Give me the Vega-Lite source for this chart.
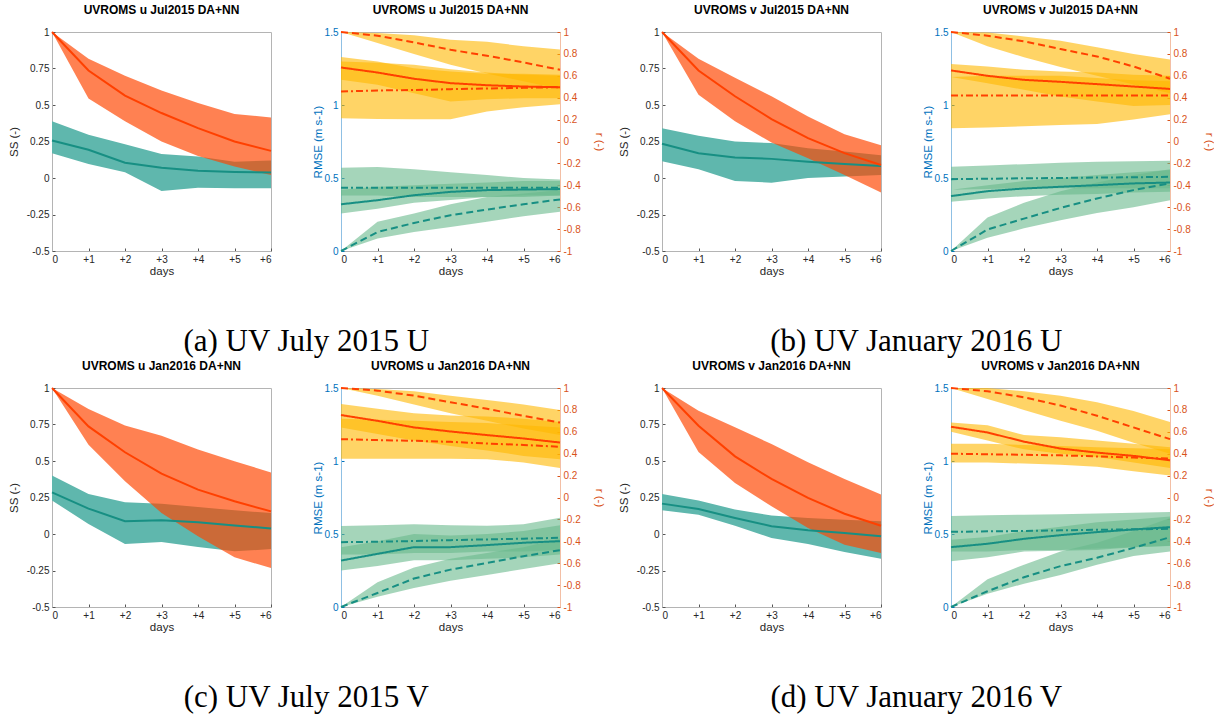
{
"$schema":"https://vega.github.io/schema/vega-lite/v6.json",
"background":"white",
"padding":{"left":7,"top":3,"right":5,"bottom":5},
"config":{
 "view":{"stroke":"#b4b4b4","strokeWidth":1},
 "title":{"font":"Liberation Sans","fontSize":12,"fontWeight":"bold","color":"#000000","offset":10},
 "axis":{"grid":false,"labelOverlap":false,"tickCount":30,"labelFont":"Liberation Sans","labelFontSize":10,"labelColor":"#262626","titleFont":"Liberation Sans","titleFontSize":11.5,"titleFontWeight":"normal","titleColor":"#262626","domainColor":"#b4b4b4","tickColor":"#555555","tickSize":-3,"labelPadding":6}
},
"datasets":{"v":[
{"f":"a","k":"ss","s":"dn","d":0,"m":1,"lo":1,"hi":1},{"f":"a","k":"ss","s":"dn","d":1,"m":0.736,"lo":0.544,"hi":0.817},{"f":"a","k":"ss","s":"dn","d":2,"m":0.564,"lo":0.388,"hi":0.70},{"f":"a","k":"ss","s":"dn","d":3,"m":0.445,"lo":0.25,"hi":0.60},{"f":"a","k":"ss","s":"dn","d":4,"m":0.342,"lo":0.151,"hi":0.514},{"f":"a","k":"ss","s":"dn","d":5,"m":0.25,"lo":0.078,"hi":0.438},{"f":"a","k":"ss","s":"dn","d":6,"m":0.186,"lo":0.02,"hi":0.415},
{"f":"a","k":"ss","s":"nn","d":0,"m":0.257,"lo":0.17,"hi":0.388},{"f":"a","k":"ss","s":"nn","d":1,"m":0.193,"lo":0.096,"hi":0.296},{"f":"a","k":"ss","s":"nn","d":2,"m":0.105,"lo":0.039,"hi":0.232},{"f":"a","k":"ss","s":"nn","d":3,"m":0.071,"lo":-0.089,"hi":0.165},{"f":"a","k":"ss","s":"nn","d":4,"m":0.05,"lo":-0.067,"hi":0.147},{"f":"a","k":"ss","s":"nn","d":5,"m":0.041,"lo":-0.071,"hi":0.112},{"f":"a","k":"ss","s":"nn","d":6,"m":0.037,"lo":-0.071,"hi":0.12},
{"f":"a","k":"rmse","s":"solid","d":0,"m":0.32,"lo":0.256,"hi":0.42},{"f":"a","k":"rmse","s":"solid","d":1,"m":0.348,"lo":0.29,"hi":0.44},{"f":"a","k":"rmse","s":"solid","d":2,"m":0.382,"lo":0.33,"hi":0.45},{"f":"a","k":"rmse","s":"solid","d":3,"m":0.405,"lo":0.35,"hi":0.46},{"f":"a","k":"rmse","s":"solid","d":4,"m":0.417,"lo":0.37,"hi":0.47},{"f":"a","k":"rmse","s":"solid","d":5,"m":0.421,"lo":0.38,"hi":0.48},{"f":"a","k":"rmse","s":"solid","d":6,"m":0.424,"lo":0.38,"hi":0.48},
{"f":"a","k":"rmse","s":"dashed","d":0,"m":0,"lo":0,"hi":0},{"f":"a","k":"rmse","s":"dashed","d":1,"m":0.13,"lo":0.085,"hi":0.2},{"f":"a","k":"rmse","s":"dashed","d":2,"m":0.192,"lo":0.13,"hi":0.256},{"f":"a","k":"rmse","s":"dashed","d":3,"m":0.245,"lo":0.165,"hi":0.32},{"f":"a","k":"rmse","s":"dashed","d":4,"m":0.284,"lo":0.2,"hi":0.37},{"f":"a","k":"rmse","s":"dashed","d":5,"m":0.32,"lo":0.238,"hi":0.394},{"f":"a","k":"rmse","s":"dashed","d":6,"m":0.353,"lo":0.268,"hi":0.417},
{"f":"a","k":"rmse","s":"dashdot","d":0,"m":0.433,"lo":0.38,"hi":0.57},{"f":"a","k":"rmse","s":"dashdot","d":1,"m":0.433,"lo":0.38,"hi":0.575},{"f":"a","k":"rmse","s":"dashdot","d":2,"m":0.433,"lo":0.37,"hi":0.56},{"f":"a","k":"rmse","s":"dashdot","d":3,"m":0.433,"lo":0.37,"hi":0.54},{"f":"a","k":"rmse","s":"dashdot","d":4,"m":0.433,"lo":0.37,"hi":0.52},{"f":"a","k":"rmse","s":"dashdot","d":5,"m":0.433,"lo":0.37,"hi":0.50},{"f":"a","k":"rmse","s":"dashdot","d":6,"m":0.433,"lo":0.38,"hi":0.49},
{"f":"a","k":"r","s":"solid","d":0,"m":0.676,"lo":0.563,"hi":0.771},{"f":"a","k":"r","s":"solid","d":1,"m":0.63,"lo":0.518,"hi":0.731},{"f":"a","k":"r","s":"solid","d":2,"m":0.573,"lo":0.44,"hi":0.67},{"f":"a","k":"r","s":"solid","d":3,"m":0.533,"lo":0.365,"hi":0.64},{"f":"a","k":"r","s":"solid","d":4,"m":0.514,"lo":0.386,"hi":0.618},{"f":"a","k":"r","s":"solid","d":5,"m":0.502,"lo":0.395,"hi":0.618},{"f":"a","k":"r","s":"solid","d":6,"m":0.496,"lo":0.395,"hi":0.61},
{"f":"a","k":"r","s":"dashed","d":0,"m":1,"lo":1,"hi":1},{"f":"a","k":"r","s":"dashed","d":1,"m":0.966,"lo":0.90,"hi":0.99},{"f":"a","k":"r","s":"dashed","d":2,"m":0.905,"lo":0.80,"hi":0.97},{"f":"a","k":"r","s":"dashed","d":3,"m":0.838,"lo":0.70,"hi":0.93},{"f":"a","k":"r","s":"dashed","d":4,"m":0.783,"lo":0.62,"hi":0.91},{"f":"a","k":"r","s":"dashed","d":5,"m":0.722,"lo":0.55,"hi":0.87},{"f":"a","k":"r","s":"dashed","d":6,"m":0.655,"lo":0.48,"hi":0.84},
{"f":"a","k":"r","s":"dashdot","d":0,"m":0.456,"lo":0.212,"hi":0.73},{"f":"a","k":"r","s":"dashdot","d":1,"m":0.466,"lo":0.206,"hi":0.72},{"f":"a","k":"r","s":"dashdot","d":2,"m":0.47,"lo":0.203,"hi":0.70},{"f":"a","k":"r","s":"dashdot","d":3,"m":0.478,"lo":0.203,"hi":0.66},{"f":"a","k":"r","s":"dashdot","d":4,"m":0.484,"lo":0.273,"hi":0.63},{"f":"a","k":"r","s":"dashdot","d":5,"m":0.49,"lo":0.313,"hi":0.61},{"f":"a","k":"r","s":"dashdot","d":6,"m":0.496,"lo":0.34,"hi":0.60},

{"f":"b","k":"ss","s":"dn","d":0,"m":1,"lo":1,"hi":1},{"f":"b","k":"ss","s":"dn","d":1,"m":0.736,"lo":0.571,"hi":0.817},{"f":"b","k":"ss","s":"dn","d":2,"m":0.56,"lo":0.388,"hi":0.686},{"f":"b","k":"ss","s":"dn","d":3,"m":0.404,"lo":0.243,"hi":0.56},{"f":"b","k":"ss","s":"dn","d":4,"m":0.273,"lo":0.135,"hi":0.422},{"f":"b","k":"ss","s":"dn","d":5,"m":0.17,"lo":0.02,"hi":0.30},{"f":"b","k":"ss","s":"dn","d":6,"m":0.089,"lo":-0.10,"hi":0.225},
{"f":"b","k":"ss","s":"nn","d":0,"m":0.234,"lo":0.115,"hi":0.34},{"f":"b","k":"ss","s":"nn","d":1,"m":0.17,"lo":0.06,"hi":0.289},{"f":"b","k":"ss","s":"nn","d":2,"m":0.14,"lo":-0.02,"hi":0.25},{"f":"b","k":"ss","s":"nn","d":3,"m":0.131,"lo":-0.032,"hi":0.239},{"f":"b","k":"ss","s":"nn","d":4,"m":0.112,"lo":0.0,"hi":0.204},{"f":"b","k":"ss","s":"nn","d":5,"m":0.096,"lo":0.01,"hi":0.181},{"f":"b","k":"ss","s":"nn","d":6,"m":0.083,"lo":0.02,"hi":0.156},
{"f":"b","k":"rmse","s":"solid","d":0,"m":0.376,"lo":0.337,"hi":0.42},{"f":"b","k":"rmse","s":"solid","d":1,"m":0.41,"lo":0.36,"hi":0.45},{"f":"b","k":"rmse","s":"solid","d":2,"m":0.428,"lo":0.375,"hi":0.48},{"f":"b","k":"rmse","s":"solid","d":3,"m":0.44,"lo":0.385,"hi":0.50},{"f":"b","k":"rmse","s":"solid","d":4,"m":0.451,"lo":0.39,"hi":0.52},{"f":"b","k":"rmse","s":"solid","d":5,"m":0.463,"lo":0.40,"hi":0.54},{"f":"b","k":"rmse","s":"solid","d":6,"m":0.469,"lo":0.405,"hi":0.554},
{"f":"b","k":"rmse","s":"dashed","d":0,"m":0,"lo":0,"hi":0},{"f":"b","k":"rmse","s":"dashed","d":1,"m":0.147,"lo":0.09,"hi":0.23},{"f":"b","k":"rmse","s":"dashed","d":2,"m":0.222,"lo":0.155,"hi":0.33},{"f":"b","k":"rmse","s":"dashed","d":3,"m":0.295,"lo":0.21,"hi":0.41},{"f":"b","k":"rmse","s":"dashed","d":4,"m":0.36,"lo":0.26,"hi":0.47},{"f":"b","k":"rmse","s":"dashed","d":5,"m":0.417,"lo":0.30,"hi":0.52},{"f":"b","k":"rmse","s":"dashed","d":6,"m":0.463,"lo":0.348,"hi":0.56},
{"f":"b","k":"rmse","s":"dashdot","d":0,"m":0.492,"lo":0.42,"hi":0.577},{"f":"b","k":"rmse","s":"dashdot","d":1,"m":0.495,"lo":0.425,"hi":0.585},{"f":"b","k":"rmse","s":"dashdot","d":2,"m":0.498,"lo":0.43,"hi":0.595},{"f":"b","k":"rmse","s":"dashdot","d":3,"m":0.5,"lo":0.43,"hi":0.605},{"f":"b","k":"rmse","s":"dashdot","d":4,"m":0.503,"lo":0.43,"hi":0.612},{"f":"b","k":"rmse","s":"dashdot","d":5,"m":0.505,"lo":0.43,"hi":0.615},{"f":"b","k":"rmse","s":"dashdot","d":6,"m":0.508,"lo":0.43,"hi":0.618},
{"f":"b","k":"r","s":"solid","d":0,"m":0.649,"lo":0.588,"hi":0.707},{"f":"b","k":"r","s":"solid","d":1,"m":0.6,"lo":0.533,"hi":0.685},{"f":"b","k":"r","s":"solid","d":2,"m":0.563,"lo":0.472,"hi":0.655},{"f":"b","k":"r","s":"solid","d":3,"m":0.545,"lo":0.41,"hi":0.64},{"f":"b","k":"r","s":"solid","d":4,"m":0.524,"lo":0.365,"hi":0.63},{"f":"b","k":"r","s":"solid","d":5,"m":0.502,"lo":0.325,"hi":0.61},{"f":"b","k":"r","s":"solid","d":6,"m":0.48,"lo":0.334,"hi":0.6},
{"f":"b","k":"r","s":"dashed","d":0,"m":1,"lo":1,"hi":1},{"f":"b","k":"r","s":"dashed","d":1,"m":0.966,"lo":0.87,"hi":0.995},{"f":"b","k":"r","s":"dashed","d":2,"m":0.915,"lo":0.77,"hi":0.96},{"f":"b","k":"r","s":"dashed","d":3,"m":0.844,"lo":0.68,"hi":0.92},{"f":"b","k":"r","s":"dashed","d":4,"m":0.777,"lo":0.6,"hi":0.86},{"f":"b","k":"r","s":"dashed","d":5,"m":0.685,"lo":0.52,"hi":0.80},{"f":"b","k":"r","s":"dashed","d":6,"m":0.573,"lo":0.44,"hi":0.75},
{"f":"b","k":"r","s":"dashdot","d":0,"m":0.42,"lo":0.12,"hi":0.59},{"f":"b","k":"r","s":"dashdot","d":1,"m":0.42,"lo":0.127,"hi":0.6},{"f":"b","k":"r","s":"dashdot","d":2,"m":0.42,"lo":0.14,"hi":0.6},{"f":"b","k":"r","s":"dashdot","d":3,"m":0.42,"lo":0.15,"hi":0.6},{"f":"b","k":"r","s":"dashdot","d":4,"m":0.42,"lo":0.16,"hi":0.58},{"f":"b","k":"r","s":"dashdot","d":5,"m":0.42,"lo":0.2,"hi":0.56},{"f":"b","k":"r","s":"dashdot","d":6,"m":0.42,"lo":0.25,"hi":0.55},

{"f":"c","k":"ss","s":"dn","d":0,"m":1,"lo":1,"hi":1},{"f":"c","k":"ss","s":"dn","d":1,"m":0.737,"lo":0.612,"hi":0.856},{"f":"c","k":"ss","s":"dn","d":2,"m":0.56,"lo":0.361,"hi":0.744},{"f":"c","k":"ss","s":"dn","d":3,"m":0.413,"lo":0.144,"hi":0.673},{"f":"c","k":"ss","s":"dn","d":4,"m":0.304,"lo":-0.016,"hi":0.578},{"f":"c","k":"ss","s":"dn","d":5,"m":0.224,"lo":-0.16,"hi":0.498},{"f":"c","k":"ss","s":"dn","d":6,"m":0.155,"lo":-0.233,"hi":0.422},
{"f":"c","k":"ss","s":"nn","d":0,"m":0.285,"lo":0.23,"hi":0.40},{"f":"c","k":"ss","s":"nn","d":1,"m":0.174,"lo":0.068,"hi":0.274},{"f":"c","k":"ss","s":"nn","d":2,"m":0.087,"lo":-0.068,"hi":0.217},{"f":"c","k":"ss","s":"nn","d":3,"m":0.094,"lo":-0.055,"hi":0.208},{"f":"c","k":"ss","s":"nn","d":4,"m":0.08,"lo":-0.089,"hi":0.185},{"f":"c","k":"ss","s":"nn","d":5,"m":0.059,"lo":-0.119,"hi":0.162},{"f":"c","k":"ss","s":"nn","d":6,"m":0.037,"lo":-0.103,"hi":0.144},
{"f":"c","k":"rmse","s":"solid","d":0,"m":0.318,"lo":0.25,"hi":0.41},{"f":"c","k":"rmse","s":"solid","d":1,"m":0.364,"lo":0.28,"hi":0.45},{"f":"c","k":"rmse","s":"solid","d":2,"m":0.41,"lo":0.32,"hi":0.5},{"f":"c","k":"rmse","s":"solid","d":3,"m":0.41,"lo":0.32,"hi":0.49},{"f":"c","k":"rmse","s":"solid","d":4,"m":0.424,"lo":0.33,"hi":0.5},{"f":"c","k":"rmse","s":"solid","d":5,"m":0.44,"lo":0.34,"hi":0.52},{"f":"c","k":"rmse","s":"solid","d":6,"m":0.451,"lo":0.36,"hi":0.56},
{"f":"c","k":"rmse","s":"dashed","d":0,"m":0,"lo":0,"hi":0},{"f":"c","k":"rmse","s":"dashed","d":1,"m":0.096,"lo":0.07,"hi":0.17},{"f":"c","k":"rmse","s":"dashed","d":2,"m":0.195,"lo":0.13,"hi":0.27},{"f":"c","k":"rmse","s":"dashed","d":3,"m":0.256,"lo":0.18,"hi":0.33},{"f":"c","k":"rmse","s":"dashed","d":4,"m":0.302,"lo":0.22,"hi":0.37},{"f":"c","k":"rmse","s":"dashed","d":5,"m":0.348,"lo":0.26,"hi":0.41},{"f":"c","k":"rmse","s":"dashed","d":6,"m":0.389,"lo":0.30,"hi":0.47},
{"f":"c","k":"rmse","s":"dashdot","d":0,"m":0.444,"lo":0.36,"hi":0.554},{"f":"c","k":"rmse","s":"dashdot","d":1,"m":0.447,"lo":0.36,"hi":0.56},{"f":"c","k":"rmse","s":"dashdot","d":2,"m":0.452,"lo":0.37,"hi":0.566},{"f":"c","k":"rmse","s":"dashdot","d":3,"m":0.458,"lo":0.37,"hi":0.56},{"f":"c","k":"rmse","s":"dashdot","d":4,"m":0.463,"lo":0.38,"hi":0.556},{"f":"c","k":"rmse","s":"dashdot","d":5,"m":0.468,"lo":0.38,"hi":0.566},{"f":"c","k":"rmse","s":"dashdot","d":6,"m":0.474,"lo":0.39,"hi":0.611},
{"f":"c","k":"r","s":"solid","d":0,"m":0.753,"lo":0.64,"hi":0.853},{"f":"c","k":"r","s":"solid","d":1,"m":0.70,"lo":0.58,"hi":0.81},{"f":"c","k":"r","s":"solid","d":2,"m":0.64,"lo":0.52,"hi":0.77},{"f":"c","k":"r","s":"solid","d":3,"m":0.603,"lo":0.47,"hi":0.75},{"f":"c","k":"r","s":"solid","d":4,"m":0.57,"lo":0.43,"hi":0.74},{"f":"c","k":"r","s":"solid","d":5,"m":0.539,"lo":0.38,"hi":0.72},{"f":"c","k":"r","s":"solid","d":6,"m":0.502,"lo":0.35,"hi":0.69},
{"f":"c","k":"r","s":"dashed","d":0,"m":1,"lo":1,"hi":1},{"f":"c","k":"r","s":"dashed","d":1,"m":0.976,"lo":0.93,"hi":0.99},{"f":"c","k":"r","s":"dashed","d":2,"m":0.93,"lo":0.85,"hi":0.97},{"f":"c","k":"r","s":"dashed","d":3,"m":0.87,"lo":0.77,"hi":0.93},{"f":"c","k":"r","s":"dashed","d":4,"m":0.81,"lo":0.70,"hi":0.89},{"f":"c","k":"r","s":"dashed","d":5,"m":0.745,"lo":0.63,"hi":0.85},{"f":"c","k":"r","s":"dashed","d":6,"m":0.685,"lo":0.57,"hi":0.80},
{"f":"c","k":"r","s":"dashdot","d":0,"m":0.533,"lo":0.355,"hi":0.72},{"f":"c","k":"r","s":"dashdot","d":1,"m":0.524,"lo":0.355,"hi":0.71},{"f":"c","k":"r","s":"dashdot","d":2,"m":0.518,"lo":0.355,"hi":0.70},{"f":"c","k":"r","s":"dashdot","d":3,"m":0.508,"lo":0.355,"hi":0.69},{"f":"c","k":"r","s":"dashdot","d":4,"m":0.493,"lo":0.35,"hi":0.68},{"f":"c","k":"r","s":"dashdot","d":5,"m":0.48,"lo":0.32,"hi":0.66},{"f":"c","k":"r","s":"dashdot","d":6,"m":0.463,"lo":0.27,"hi":0.64},

{"f":"d","k":"ss","s":"dn","d":0,"m":1,"lo":1,"hi":1},{"f":"d","k":"ss","s":"dn","d":1,"m":0.742,"lo":0.562,"hi":0.845},{"f":"d","k":"ss","s":"dn","d":2,"m":0.532,"lo":0.349,"hi":0.731},{"f":"d","k":"ss","s":"dn","d":3,"m":0.377,"lo":0.19,"hi":0.616},{"f":"d","k":"ss","s":"dn","d":4,"m":0.247,"lo":0.041,"hi":0.491},{"f":"d","k":"ss","s":"dn","d":5,"m":0.139,"lo":-0.073,"hi":0.377},{"f":"d","k":"ss","s":"dn","d":6,"m":0.057,"lo":-0.13,"hi":0.27},
{"f":"d","k":"ss","s":"nn","d":0,"m":0.208,"lo":0.162,"hi":0.274},{"f":"d","k":"ss","s":"nn","d":1,"m":0.171,"lo":0.132,"hi":0.23},{"f":"d","k":"ss","s":"nn","d":2,"m":0.11,"lo":0.057,"hi":0.167},{"f":"d","k":"ss","s":"nn","d":3,"m":0.053,"lo":-0.027,"hi":0.126},{"f":"d","k":"ss","s":"nn","d":4,"m":0.025,"lo":-0.068,"hi":0.11},{"f":"d","k":"ss","s":"nn","d":5,"m":0.007,"lo":-0.123,"hi":0.098},{"f":"d","k":"ss","s":"nn","d":6,"m":-0.016,"lo":-0.169,"hi":0.087},
{"f":"d","k":"rmse","s":"solid","d":0,"m":0.41,"lo":0.314,"hi":0.46},{"f":"d","k":"rmse","s":"solid","d":1,"m":0.433,"lo":0.34,"hi":0.48},{"f":"d","k":"rmse","s":"solid","d":2,"m":0.467,"lo":0.38,"hi":0.52},{"f":"d","k":"rmse","s":"solid","d":3,"m":0.492,"lo":0.385,"hi":0.55},{"f":"d","k":"rmse","s":"solid","d":4,"m":0.513,"lo":0.39,"hi":0.58},{"f":"d","k":"rmse","s":"solid","d":5,"m":0.531,"lo":0.41,"hi":0.6},{"f":"d","k":"rmse","s":"solid","d":6,"m":0.547,"lo":0.417,"hi":0.62},
{"f":"d","k":"rmse","s":"dashed","d":0,"m":0,"lo":0,"hi":0},{"f":"d","k":"rmse","s":"dashed","d":1,"m":0.108,"lo":0.09,"hi":0.19},{"f":"d","k":"rmse","s":"dashed","d":2,"m":0.204,"lo":0.16,"hi":0.29},{"f":"d","k":"rmse","s":"dashed","d":3,"m":0.28,"lo":0.22,"hi":0.38},{"f":"d","k":"rmse","s":"dashed","d":4,"m":0.337,"lo":0.29,"hi":0.44},{"f":"d","k":"rmse","s":"dashed","d":5,"m":0.405,"lo":0.35,"hi":0.52},{"f":"d","k":"rmse","s":"dashed","d":6,"m":0.478,"lo":0.38,"hi":0.61},
{"f":"d","k":"rmse","s":"dashdot","d":0,"m":0.515,"lo":0.38,"hi":0.623},{"f":"d","k":"rmse","s":"dashdot","d":1,"m":0.518,"lo":0.38,"hi":0.628},{"f":"d","k":"rmse","s":"dashdot","d":2,"m":0.521,"lo":0.39,"hi":0.632},{"f":"d","k":"rmse","s":"dashdot","d":3,"m":0.525,"lo":0.39,"hi":0.636},{"f":"d","k":"rmse","s":"dashdot","d":4,"m":0.529,"lo":0.4,"hi":0.641},{"f":"d","k":"rmse","s":"dashdot","d":5,"m":0.532,"lo":0.41,"hi":0.645},{"f":"d","k":"rmse","s":"dashdot","d":6,"m":0.536,"lo":0.42,"hi":0.65},
{"f":"d","k":"r","s":"solid","d":0,"m":0.646,"lo":0.6,"hi":0.686},{"f":"d","k":"r","s":"solid","d":1,"m":0.594,"lo":0.52,"hi":0.66},{"f":"d","k":"r","s":"solid","d":2,"m":0.51,"lo":0.44,"hi":0.57},{"f":"d","k":"r","s":"solid","d":3,"m":0.447,"lo":0.4,"hi":0.55},{"f":"d","k":"r","s":"solid","d":4,"m":0.41,"lo":0.37,"hi":0.52},{"f":"d","k":"r","s":"solid","d":5,"m":0.38,"lo":0.32,"hi":0.49},{"f":"d","k":"r","s":"solid","d":6,"m":0.34,"lo":0.27,"hi":0.46},
{"f":"d","k":"r","s":"dashed","d":0,"m":1,"lo":1,"hi":1},{"f":"d","k":"r","s":"dashed","d":1,"m":0.97,"lo":0.9,"hi":1},{"f":"d","k":"r","s":"dashed","d":2,"m":0.915,"lo":0.8,"hi":0.97},{"f":"d","k":"r","s":"dashed","d":3,"m":0.84,"lo":0.7,"hi":0.93},{"f":"d","k":"r","s":"dashed","d":4,"m":0.747,"lo":0.61,"hi":0.87},{"f":"d","k":"r","s":"dashed","d":5,"m":0.64,"lo":0.5,"hi":0.79},{"f":"d","k":"r","s":"dashed","d":6,"m":0.533,"lo":0.4,"hi":0.69},
{"f":"d","k":"r","s":"dashdot","d":0,"m":0.4,"lo":0.32,"hi":0.49},{"f":"d","k":"r","s":"dashdot","d":1,"m":0.395,"lo":0.32,"hi":0.49},{"f":"d","k":"r","s":"dashdot","d":2,"m":0.39,"lo":0.31,"hi":0.48},{"f":"d","k":"r","s":"dashdot","d":3,"m":0.385,"lo":0.3,"hi":0.47},{"f":"d","k":"r","s":"dashdot","d":4,"m":0.375,"lo":0.28,"hi":0.46},{"f":"d","k":"r","s":"dashdot","d":5,"m":0.365,"lo":0.24,"hi":0.45},{"f":"d","k":"r","s":"dashdot","d":6,"m":0.355,"lo":0.2,"hi":0.44}
]},
"spacing":2,
"vconcat":[
{"spacing":12,"hconcat":[
 {"spacing":35,"title":{"text":"(a) UV July 2015 U","orient":"bottom","anchor":"middle","font":"Liberation Serif","fontSize":31,"fontWeight":"normal","offset":50},
  "hconcat":[
  {"width":219,"height":219,"title":"UVROMS u Jul2015 DA+NN","data":{"name":"v"},"transform":[{"filter":"datum.f=='a' && datum.k=='ss'"}],
   "encoding":{"x":{"field":"d","type":"quantitative","scale":{"domain":[0,6],"nice":false},"axis":{"title":"days","values":[0,1,2,3,4,5,6],"tickCount":30,"labelOverlap":false,"labelExpr":"datum.value == 0 ? '0' : '+' + datum.value","titlePadding":1}}},
   "layer":[
    {"transform":[{"filter":"datum.s=='nn'"}],"mark":{"type":"area","color":"#5FB7AD","opacity":1},"encoding":{"y":{"field":"lo","type":"quantitative","title":"SS (-)","scale":{"domain":[-0.5,1],"nice":false},"axis":{"values":[-0.5,-0.25,0,0.25,0.5,0.75,1],"tickCount":30,"labelOverlap":false,"labelExpr":"(datum.value < 0 ? '-' : '') + format(abs(datum.value),'~g')","titlePadding":7}},"y2":{"field":"hi"}}},
    {"transform":[{"filter":"datum.s=='dn'"}],"mark":{"type":"area","color":"#FF4500","opacity":0.68},"encoding":{"y":{"field":"lo","type":"quantitative","title":"SS (-)"},"y2":{"field":"hi"}}},
    {"data":{"values":[{"z":0}]},"mark":{"type":"rule","color":"#000000","strokeWidth":1.3},"encoding":{"y":{"field":"z","type":"quantitative","title":"SS (-)"}}},
    {"transform":[{"filter":"datum.s=='nn'"}],"mark":{"type":"line","color":"#178F83","strokeWidth":2},"encoding":{"y":{"field":"m","type":"quantitative","title":"SS (-)"}}},
    {"transform":[{"filter":"datum.s=='dn'"}],"mark":{"type":"line","color":"#FF4000","strokeWidth":2},"encoding":{"y":{"field":"m","type":"quantitative","title":"SS (-)"}}}
   ]},
  {"width":219,"height":219,"title":"UVROMS u Jul2015 DA+NN","data":{"name":"v"},
   "encoding":{"x":{"field":"d","type":"quantitative","scale":{"domain":[0,6],"nice":false},"axis":{"title":"days","values":[0,1,2,3,4,5,6],"tickCount":30,"labelOverlap":false,"labelExpr":"datum.value == 0 ? '0' : '+' + datum.value","titlePadding":1}}},
   "layer":[
    {"transform":[{"filter":"datum.f=='a' && datum.k=='rmse'"}],"layer":[
     {"mark":{"type":"area","color":"#69B98C","opacity":0.6},"encoding":{"y":{"field":"lo","type":"quantitative","title":"RMSE (m s-1)","scale":{"domain":[0,1.5],"nice":false},"axis":{"orient":"left","values":[0,0.5,1,1.5],"tickCount":30,"labelOverlap":false,"labelExpr":"format(datum.value,'~g')","labelColor":"#0072BD","titleColor":"#0072BD","domainColor":"#8FC0E4","tickColor":"#0072BD","titlePadding":1}},"y2":{"field":"hi"},"detail":{"field":"s"}}},
     {"mark":{"type":"line","color":"#178F83","strokeWidth":2},"encoding":{"y":{"field":"m","type":"quantitative","title":"RMSE (m s-1)"},"strokeDash":{"field":"s","type":"nominal","scale":{"domain":["solid","dashed","dashdot"],"range":[[1,0],[7,4],[7,3,2,3]]},"legend":null}}}
    ]},
    {"transform":[{"filter":"datum.f=='a' && datum.k=='r'"}],"layer":[
     {"mark":{"type":"area","color":"#FFB700","opacity":0.6},"encoding":{"y":{"field":"lo","type":"quantitative","title":"r (-)","scale":{"domain":[-1,1],"nice":false},"axis":{"orient":"right","values":[-1,-0.8,-0.6,-0.4,-0.2,0,0.2,0.4,0.6,0.8,1],"tickCount":30,"labelOverlap":false,"labelExpr":"(datum.value < 0 ? '-' : '') + format(abs(datum.value),'~g')","labelColor":"#D95319","titleColor":"#D95319","domainColor":"#F3BFA5","tickColor":"#D95319","titlePadding":13}},"y2":{"field":"hi"},"detail":{"field":"s"}}},
     {"mark":{"type":"line","color":"#FF4000","strokeWidth":2},"encoding":{"y":{"field":"m","type":"quantitative","title":"r (-)"},"strokeDash":{"field":"s","type":"nominal","scale":{"domain":["solid","dashed","dashdot"],"range":[[1,0],[7,4],[7,3,2,3]]},"legend":null}}}
    ]}
   ],
   "resolve":{"scale":{"y":"independent"}}}
 ]},
 {"spacing":35,"title":{"text":"(b) UV January 2016 U","orient":"bottom","anchor":"middle","font":"Liberation Serif","fontSize":31,"fontWeight":"normal","offset":50},
  "hconcat":[
  {"width":219,"height":219,"title":"UVROMS v Jul2015 DA+NN","data":{"name":"v"},"transform":[{"filter":"datum.f=='b' && datum.k=='ss'"}],
   "encoding":{"x":{"field":"d","type":"quantitative","scale":{"domain":[0,6],"nice":false},"axis":{"title":"days","values":[0,1,2,3,4,5,6],"tickCount":30,"labelOverlap":false,"labelExpr":"datum.value == 0 ? '0' : '+' + datum.value","titlePadding":1}}},
   "layer":[
    {"transform":[{"filter":"datum.s=='nn'"}],"mark":{"type":"area","color":"#5FB7AD","opacity":1},"encoding":{"y":{"field":"lo","type":"quantitative","title":"SS (-)","scale":{"domain":[-0.5,1],"nice":false},"axis":{"values":[-0.5,-0.25,0,0.25,0.5,0.75,1],"tickCount":30,"labelOverlap":false,"labelExpr":"(datum.value < 0 ? '-' : '') + format(abs(datum.value),'~g')","titlePadding":7}},"y2":{"field":"hi"}}},
    {"transform":[{"filter":"datum.s=='dn'"}],"mark":{"type":"area","color":"#FF4500","opacity":0.68},"encoding":{"y":{"field":"lo","type":"quantitative","title":"SS (-)"},"y2":{"field":"hi"}}},
    {"data":{"values":[{"z":0}]},"mark":{"type":"rule","color":"#000000","strokeWidth":1.3},"encoding":{"y":{"field":"z","type":"quantitative","title":"SS (-)"}}},
    {"transform":[{"filter":"datum.s=='nn'"}],"mark":{"type":"line","color":"#178F83","strokeWidth":2},"encoding":{"y":{"field":"m","type":"quantitative","title":"SS (-)"}}},
    {"transform":[{"filter":"datum.s=='dn'"}],"mark":{"type":"line","color":"#FF4000","strokeWidth":2},"encoding":{"y":{"field":"m","type":"quantitative","title":"SS (-)"}}}
   ]},
  {"width":219,"height":219,"title":"UVROMS v Jul2015 DA+NN","data":{"name":"v"},
   "encoding":{"x":{"field":"d","type":"quantitative","scale":{"domain":[0,6],"nice":false},"axis":{"title":"days","values":[0,1,2,3,4,5,6],"tickCount":30,"labelOverlap":false,"labelExpr":"datum.value == 0 ? '0' : '+' + datum.value","titlePadding":1}}},
   "layer":[
    {"transform":[{"filter":"datum.f=='b' && datum.k=='rmse'"}],"layer":[
     {"mark":{"type":"area","color":"#69B98C","opacity":0.6},"encoding":{"y":{"field":"lo","type":"quantitative","title":"RMSE (m s-1)","scale":{"domain":[0,1.5],"nice":false},"axis":{"orient":"left","values":[0,0.5,1,1.5],"tickCount":30,"labelOverlap":false,"labelExpr":"format(datum.value,'~g')","labelColor":"#0072BD","titleColor":"#0072BD","domainColor":"#8FC0E4","tickColor":"#0072BD","titlePadding":1}},"y2":{"field":"hi"},"detail":{"field":"s"}}},
     {"mark":{"type":"line","color":"#178F83","strokeWidth":2},"encoding":{"y":{"field":"m","type":"quantitative","title":"RMSE (m s-1)"},"strokeDash":{"field":"s","type":"nominal","scale":{"domain":["solid","dashed","dashdot"],"range":[[1,0],[7,4],[7,3,2,3]]},"legend":null}}}
    ]},
    {"transform":[{"filter":"datum.f=='b' && datum.k=='r'"}],"layer":[
     {"mark":{"type":"area","color":"#FFB700","opacity":0.6},"encoding":{"y":{"field":"lo","type":"quantitative","title":"r (-)","scale":{"domain":[-1,1],"nice":false},"axis":{"orient":"right","values":[-1,-0.8,-0.6,-0.4,-0.2,0,0.2,0.4,0.6,0.8,1],"tickCount":30,"labelOverlap":false,"labelExpr":"(datum.value < 0 ? '-' : '') + format(abs(datum.value),'~g')","labelColor":"#D95319","titleColor":"#D95319","domainColor":"#F3BFA5","tickColor":"#D95319","titlePadding":13}},"y2":{"field":"hi"},"detail":{"field":"s"}}},
     {"mark":{"type":"line","color":"#FF4000","strokeWidth":2},"encoding":{"y":{"field":"m","type":"quantitative","title":"r (-)"},"strokeDash":{"field":"s","type":"nominal","scale":{"domain":["solid","dashed","dashdot"],"range":[[1,0],[7,4],[7,3,2,3]]},"legend":null}}}
    ]}
   ],
   "resolve":{"scale":{"y":"independent"}}}
 ]}
]},
{"spacing":12,"hconcat":[
 {"spacing":35,"title":{"text":"(c) UV July 2015 V","orient":"bottom","anchor":"middle","font":"Liberation Serif","fontSize":31,"fontWeight":"normal","offset":50},
  "hconcat":[
  {"width":219,"height":219,"title":"UVROMS u Jan2016 DA+NN","data":{"name":"v"},"transform":[{"filter":"datum.f=='c' && datum.k=='ss'"}],
   "encoding":{"x":{"field":"d","type":"quantitative","scale":{"domain":[0,6],"nice":false},"axis":{"title":"days","values":[0,1,2,3,4,5,6],"tickCount":30,"labelOverlap":false,"labelExpr":"datum.value == 0 ? '0' : '+' + datum.value","titlePadding":1}}},
   "layer":[
    {"transform":[{"filter":"datum.s=='nn'"}],"mark":{"type":"area","color":"#5FB7AD","opacity":1},"encoding":{"y":{"field":"lo","type":"quantitative","title":"SS (-)","scale":{"domain":[-0.5,1],"nice":false},"axis":{"values":[-0.5,-0.25,0,0.25,0.5,0.75,1],"tickCount":30,"labelOverlap":false,"labelExpr":"(datum.value < 0 ? '-' : '') + format(abs(datum.value),'~g')","titlePadding":7}},"y2":{"field":"hi"}}},
    {"transform":[{"filter":"datum.s=='dn'"}],"mark":{"type":"area","color":"#FF4500","opacity":0.68},"encoding":{"y":{"field":"lo","type":"quantitative","title":"SS (-)"},"y2":{"field":"hi"}}},
    {"data":{"values":[{"z":0}]},"mark":{"type":"rule","color":"#000000","strokeWidth":1.3},"encoding":{"y":{"field":"z","type":"quantitative","title":"SS (-)"}}},
    {"transform":[{"filter":"datum.s=='nn'"}],"mark":{"type":"line","color":"#178F83","strokeWidth":2},"encoding":{"y":{"field":"m","type":"quantitative","title":"SS (-)"}}},
    {"transform":[{"filter":"datum.s=='dn'"}],"mark":{"type":"line","color":"#FF4000","strokeWidth":2},"encoding":{"y":{"field":"m","type":"quantitative","title":"SS (-)"}}}
   ]},
  {"width":219,"height":219,"title":"UVROMS u Jan2016 DA+NN","data":{"name":"v"},
   "encoding":{"x":{"field":"d","type":"quantitative","scale":{"domain":[0,6],"nice":false},"axis":{"title":"days","values":[0,1,2,3,4,5,6],"tickCount":30,"labelOverlap":false,"labelExpr":"datum.value == 0 ? '0' : '+' + datum.value","titlePadding":1}}},
   "layer":[
    {"transform":[{"filter":"datum.f=='c' && datum.k=='rmse'"}],"layer":[
     {"mark":{"type":"area","color":"#69B98C","opacity":0.6},"encoding":{"y":{"field":"lo","type":"quantitative","title":"RMSE (m s-1)","scale":{"domain":[0,1.5],"nice":false},"axis":{"orient":"left","values":[0,0.5,1,1.5],"tickCount":30,"labelOverlap":false,"labelExpr":"format(datum.value,'~g')","labelColor":"#0072BD","titleColor":"#0072BD","domainColor":"#8FC0E4","tickColor":"#0072BD","titlePadding":1}},"y2":{"field":"hi"},"detail":{"field":"s"}}},
     {"mark":{"type":"line","color":"#178F83","strokeWidth":2},"encoding":{"y":{"field":"m","type":"quantitative","title":"RMSE (m s-1)"},"strokeDash":{"field":"s","type":"nominal","scale":{"domain":["solid","dashed","dashdot"],"range":[[1,0],[7,4],[7,3,2,3]]},"legend":null}}}
    ]},
    {"transform":[{"filter":"datum.f=='c' && datum.k=='r'"}],"layer":[
     {"mark":{"type":"area","color":"#FFB700","opacity":0.6},"encoding":{"y":{"field":"lo","type":"quantitative","title":"r (-)","scale":{"domain":[-1,1],"nice":false},"axis":{"orient":"right","values":[-1,-0.8,-0.6,-0.4,-0.2,0,0.2,0.4,0.6,0.8,1],"tickCount":30,"labelOverlap":false,"labelExpr":"(datum.value < 0 ? '-' : '') + format(abs(datum.value),'~g')","labelColor":"#D95319","titleColor":"#D95319","domainColor":"#F3BFA5","tickColor":"#D95319","titlePadding":13}},"y2":{"field":"hi"},"detail":{"field":"s"}}},
     {"mark":{"type":"line","color":"#FF4000","strokeWidth":2},"encoding":{"y":{"field":"m","type":"quantitative","title":"r (-)"},"strokeDash":{"field":"s","type":"nominal","scale":{"domain":["solid","dashed","dashdot"],"range":[[1,0],[7,4],[7,3,2,3]]},"legend":null}}}
    ]}
   ],
   "resolve":{"scale":{"y":"independent"}}}
 ]},
 {"spacing":35,"title":{"text":"(d) UV January 2016 V","orient":"bottom","anchor":"middle","font":"Liberation Serif","fontSize":31,"fontWeight":"normal","offset":50},
  "hconcat":[
  {"width":219,"height":219,"title":"UVROMS v Jan2016 DA+NN","data":{"name":"v"},"transform":[{"filter":"datum.f=='d' && datum.k=='ss'"}],
   "encoding":{"x":{"field":"d","type":"quantitative","scale":{"domain":[0,6],"nice":false},"axis":{"title":"days","values":[0,1,2,3,4,5,6],"tickCount":30,"labelOverlap":false,"labelExpr":"datum.value == 0 ? '0' : '+' + datum.value","titlePadding":1}}},
   "layer":[
    {"transform":[{"filter":"datum.s=='nn'"}],"mark":{"type":"area","color":"#5FB7AD","opacity":1},"encoding":{"y":{"field":"lo","type":"quantitative","title":"SS (-)","scale":{"domain":[-0.5,1],"nice":false},"axis":{"values":[-0.5,-0.25,0,0.25,0.5,0.75,1],"tickCount":30,"labelOverlap":false,"labelExpr":"(datum.value < 0 ? '-' : '') + format(abs(datum.value),'~g')","titlePadding":7}},"y2":{"field":"hi"}}},
    {"transform":[{"filter":"datum.s=='dn'"}],"mark":{"type":"area","color":"#FF4500","opacity":0.68},"encoding":{"y":{"field":"lo","type":"quantitative","title":"SS (-)"},"y2":{"field":"hi"}}},
    {"data":{"values":[{"z":0}]},"mark":{"type":"rule","color":"#000000","strokeWidth":1.3},"encoding":{"y":{"field":"z","type":"quantitative","title":"SS (-)"}}},
    {"transform":[{"filter":"datum.s=='nn'"}],"mark":{"type":"line","color":"#178F83","strokeWidth":2},"encoding":{"y":{"field":"m","type":"quantitative","title":"SS (-)"}}},
    {"transform":[{"filter":"datum.s=='dn'"}],"mark":{"type":"line","color":"#FF4000","strokeWidth":2},"encoding":{"y":{"field":"m","type":"quantitative","title":"SS (-)"}}}
   ]},
  {"width":219,"height":219,"title":"UVROMS v Jan2016 DA+NN","data":{"name":"v"},
   "encoding":{"x":{"field":"d","type":"quantitative","scale":{"domain":[0,6],"nice":false},"axis":{"title":"days","values":[0,1,2,3,4,5,6],"tickCount":30,"labelOverlap":false,"labelExpr":"datum.value == 0 ? '0' : '+' + datum.value","titlePadding":1}}},
   "layer":[
    {"transform":[{"filter":"datum.f=='d' && datum.k=='rmse'"}],"layer":[
     {"mark":{"type":"area","color":"#69B98C","opacity":0.6},"encoding":{"y":{"field":"lo","type":"quantitative","title":"RMSE (m s-1)","scale":{"domain":[0,1.5],"nice":false},"axis":{"orient":"left","values":[0,0.5,1,1.5],"tickCount":30,"labelOverlap":false,"labelExpr":"format(datum.value,'~g')","labelColor":"#0072BD","titleColor":"#0072BD","domainColor":"#8FC0E4","tickColor":"#0072BD","titlePadding":1}},"y2":{"field":"hi"},"detail":{"field":"s"}}},
     {"mark":{"type":"line","color":"#178F83","strokeWidth":2},"encoding":{"y":{"field":"m","type":"quantitative","title":"RMSE (m s-1)"},"strokeDash":{"field":"s","type":"nominal","scale":{"domain":["solid","dashed","dashdot"],"range":[[1,0],[7,4],[7,3,2,3]]},"legend":null}}}
    ]},
    {"transform":[{"filter":"datum.f=='d' && datum.k=='r'"}],"layer":[
     {"mark":{"type":"area","color":"#FFB700","opacity":0.6},"encoding":{"y":{"field":"lo","type":"quantitative","title":"r (-)","scale":{"domain":[-1,1],"nice":false},"axis":{"orient":"right","values":[-1,-0.8,-0.6,-0.4,-0.2,0,0.2,0.4,0.6,0.8,1],"tickCount":30,"labelOverlap":false,"labelExpr":"(datum.value < 0 ? '-' : '') + format(abs(datum.value),'~g')","labelColor":"#D95319","titleColor":"#D95319","domainColor":"#F3BFA5","tickColor":"#D95319","titlePadding":13}},"y2":{"field":"hi"},"detail":{"field":"s"}}},
     {"mark":{"type":"line","color":"#FF4000","strokeWidth":2},"encoding":{"y":{"field":"m","type":"quantitative","title":"r (-)"},"strokeDash":{"field":"s","type":"nominal","scale":{"domain":["solid","dashed","dashdot"],"range":[[1,0],[7,4],[7,3,2,3]]},"legend":null}}}
    ]}
   ],
   "resolve":{"scale":{"y":"independent"}}}
 ]}
]}
]
}
